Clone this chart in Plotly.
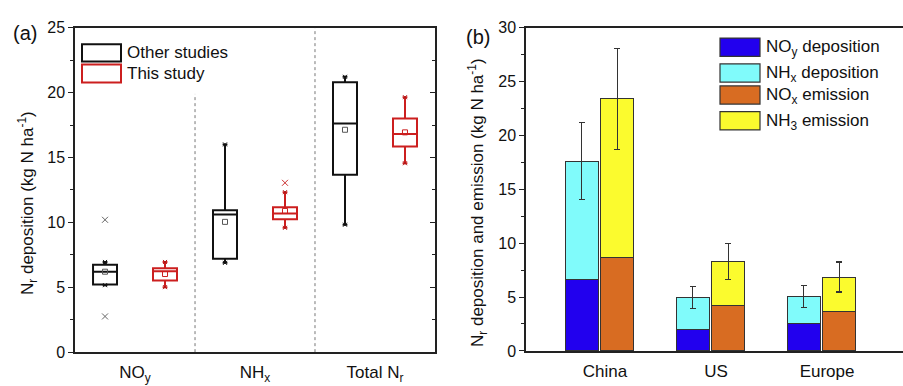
import plotly.graph_objects as go

# ---------------- Data: panel (a) box statistics ----------------
box_groups = ["NO<sub>y</sub>", "NH<sub>x</sub>", "Total N<sub>r</sub>"]
other_q1 = [5.21, 7.20, 13.68]
other_median = [6.19, 10.61, 17.63]
other_q3 = [6.73, 10.93, 20.80]
other_lower = [5.16, 6.88, 9.82]
other_upper = [6.95, 16.01, 21.22]
other_mean = [6.20, 10.04, 17.14]
other_outlier_group = [0, 0]
other_outlier_value = [10.20, 2.75]

this_q1 = [5.53, 10.24, 15.84]
this_median = [6.24, 10.68, 16.82]
this_q3 = [6.46, 11.17, 18.00]
this_lower = [5.01, 9.58, 14.56]
this_upper = [6.95, 12.33, 19.65]
this_mean = [6.02, 10.88, 16.94]
this_outlier_group = [1]
this_outlier_value = [13.05]

# ---------------- Data: panel (b) stacked bars ----------------
regions = ["China", "US", "Europe"]
noy_deposition = [6.63, 1.95, 2.54]
nhx_deposition = [11.00, 2.99, 2.52]
deposition_err = [3.55, 1.01, 1.03]
nox_emission = [8.70, 4.23, 3.67]
nh3_emission = [14.70, 4.08, 3.19]
emission_err = [4.67, 1.69, 1.40]

FONT = "Liberation Sans, Arial, sans-serif"
AX = "#222222"

other_x = [2 * i + 0.5 for i in range(len(box_groups))]
this_x = [2 * i + 1.5 for i in range(len(box_groups))]

fig = go.Figure()

# ---- panel (a) ----
fig.add_trace(go.Box(
    x=other_x, q1=other_q1, median=other_median, q3=other_q3,
    lowerfence=other_lower, upperfence=other_upper,
    width=0.4, whiskerwidth=0.2, fillcolor="rgba(0,0,0,0)",
    line=dict(color="#111111", width=2), boxpoints=False,
    xaxis="x", yaxis="y", showlegend=False, hoverinfo="skip"))
fig.add_trace(go.Box(
    x=this_x, q1=this_q1, median=this_median, q3=this_q3,
    lowerfence=this_lower, upperfence=this_upper,
    width=0.4, whiskerwidth=0.2, fillcolor="rgba(0,0,0,0)",
    line=dict(color="#cc1f1f", width=2), boxpoints=False,
    xaxis="x", yaxis="y", showlegend=False, hoverinfo="skip"))
# means
fig.add_trace(go.Scatter(
    x=other_x, y=other_mean, mode="markers",
    marker=dict(symbol="square-open", size=5, color="#555555", line=dict(width=1)),
    xaxis="x", yaxis="y", showlegend=False, hoverinfo="skip"))
fig.add_trace(go.Scatter(
    x=this_x, y=this_mean, mode="markers",
    marker=dict(symbol="square-open", size=5, color="#cc1f1f", line=dict(width=1)),
    xaxis="x", yaxis="y", showlegend=False, hoverinfo="skip"))
# min/max marks at whisker ends
fig.add_trace(go.Scatter(
    x=other_x + other_x, y=other_lower + other_upper, mode="markers",
    marker=dict(symbol="x-thin-open", size=4, color="#111111", line=dict(width=1)),
    xaxis="x", yaxis="y", showlegend=False, hoverinfo="skip"))
fig.add_trace(go.Scatter(
    x=this_x + this_x, y=this_lower + this_upper, mode="markers",
    marker=dict(symbol="x-thin-open", size=4, color="#b01818", line=dict(width=1)),
    xaxis="x", yaxis="y", showlegend=False, hoverinfo="skip"))
# outliers
fig.add_trace(go.Scatter(
    x=[other_x[g] for g in other_outlier_group], y=other_outlier_value, mode="markers",
    marker=dict(symbol="x-thin-open", size=6, color="#666666", line=dict(width=1)),
    xaxis="x", yaxis="y", showlegend=False, hoverinfo="skip"))
fig.add_trace(go.Scatter(
    x=[this_x[g] for g in this_outlier_group], y=this_outlier_value, mode="markers",
    marker=dict(symbol="x-thin-open", size=6, color="#cc3333", line=dict(width=1)),
    xaxis="x", yaxis="y", showlegend=False, hoverinfo="skip"))
# invisible trace for the right-side tick axis
fig.add_trace(go.Scatter(x=[0], y=[0], mode="markers", marker=dict(opacity=0),
                         xaxis="x", yaxis="y3", showlegend=False, hoverinfo="skip"))

# ---- panel (b) ----
dep_x = [i + 1 - 0.16 for i in range(len(regions))]
emi_x = [i + 1 + 0.16 for i in range(len(regions))]
bar_line = dict(color="#333333", width=1)
err_style = dict(type="data", color="#333333", thickness=1.2, width=3)

fig.add_trace(go.Bar(x=dep_x, y=noy_deposition, width=0.3, marker=dict(color="#2200ee", line=bar_line),
                     xaxis="x2", yaxis="y2", showlegend=False, hoverinfo="skip"))
fig.add_trace(go.Bar(x=dep_x, y=nhx_deposition, width=0.3, marker=dict(color="#80fbfb", line=bar_line),
                     error_y=dict(array=deposition_err, **err_style),
                     xaxis="x2", yaxis="y2", showlegend=False, hoverinfo="skip"))
fig.add_trace(go.Bar(x=emi_x, y=nox_emission, width=0.3, marker=dict(color="#d86c22", line=bar_line),
                     xaxis="x2", yaxis="y2", showlegend=False, hoverinfo="skip"))
fig.add_trace(go.Bar(x=emi_x, y=nh3_emission, width=0.3, marker=dict(color="#fbfb2e", line=bar_line),
                     error_y=dict(array=emission_err, **err_style),
                     xaxis="x2", yaxis="y2", showlegend=False, hoverinfo="skip"))

tickfont = dict(family=FONT, size=16, color="#111111")

fig.update_layout(
    width=903, height=386,
    margin=dict(l=0, r=0, t=0, b=0),
    paper_bgcolor="white", plot_bgcolor="white",
    barmode="stack",
    font=dict(family=FONT, color="#111111"),
    xaxis=dict(domain=[0.0831, 0.4817], range=[0, 6], tickvals=[1, 3, 5], ticktext=box_groups,
               ticks="", showgrid=False, zeroline=False, showline=True, linecolor=AX,
               linewidth=1.5, mirror=True, tickfont=dict(family=FONT, size=17, color="#111111"),
               ticklabelstandoff=4, anchor="y"),
    yaxis=dict(domain=[0.0674, 0.9464], range=[0, 25], tickvals=[0, 5, 10, 15, 20, 25],
               ticks="outside", ticklen=5, tickcolor=AX, showgrid=False, zeroline=False,
               showline=True, linecolor=AX, linewidth=1.5, mirror=True, tickfont=tickfont,
               minor=dict(ticks="outside", dtick=2.5, ticklen=3, tickcolor=AX, showgrid=False),
               anchor="x"),
    yaxis3=dict(overlaying="y", side="right", anchor="x", range=[0, 25], tickvals=[0, 5, 10, 15, 20, 25],
                ticks="inside", ticklen=5, tickcolor=AX, showticklabels=False, showgrid=False,
                zeroline=False, showline=False,
                minor=dict(ticks="inside", dtick=2.5, ticklen=3, tickcolor=AX, showgrid=False)),
    xaxis2=dict(domain=[0.5825, 1.0], range=[0.338, 3.734], tickvals=[1.05, 2.05, 3.05],
                ticktext=regions, ticks="", showgrid=False, zeroline=False, showline=True,
                linecolor=AX, linewidth=1.5, mirror=True,
                tickfont=dict(family=FONT, size=17, color="#111111"),
                ticklabelstandoff=4, anchor="y2"),
    yaxis2=dict(domain=[0.0707, 0.9464], range=[0, 30], tickvals=[0, 5, 10, 15, 20, 25, 30],
                ticks="outside", ticklen=5, tickcolor=AX, showgrid=False, zeroline=False,
                showline=True, linecolor=AX, linewidth=1.5, mirror=False, tickfont=tickfont,
                minor=dict(ticks="outside", dtick=2.5, ticklen=3, tickcolor=AX, showgrid=False),
                anchor="x2"),
)

# separators in panel (a)
fig.add_shape(type="line", xref="x", yref="y", x0=2, x1=2, y0=0, y1=19.9,
              line=dict(color="#777777", width=1, dash="dot"))
fig.add_shape(type="line", xref="x", yref="y", x0=4, x1=4, y0=0, y1=25,
              line=dict(color="#777777", width=1, dash="dot"))

W, H = 903.0, 386.0


def px_rect(x0, y0, x1, y1, color, fill="white", lw=2):
    fig.add_shape(type="rect", xref="paper", yref="paper",
                  x0=x0 / W, x1=x1 / W, y0=1 - y1 / H, y1=1 - y0 / H,
                  line=dict(color=color, width=lw), fillcolor=fill)


def px_text(x, y, text, size=17, xanchor="left", angle=0):
    fig.add_annotation(xref="paper", yref="paper", x=x / W, y=1 - y / H, text=text,
                       showarrow=False, xanchor=xanchor, yanchor="middle", textangle=angle,
                       font=dict(family=FONT, size=size, color="#111111"))


# legend panel (a)
px_rect(82, 38, 121, 56, "#111111")
px_rect(82, 59, 121, 78, "#cc1f1f")
px_text(125, 47, "Other studies")
px_text(125, 68, "This study")

# legend panel (b)
leg_colors = ["#2200ee", "#80fbfb", "#d86c22", "#fbfb2e"]
leg_labels = ["NO<sub>y</sub> deposition", "NH<sub>x</sub> deposition",
              "NO<sub>x</sub> emission", "NH<sub>3</sub> emission"]
leg_y = [(31.5, 50.5), (58.5, 77.5), (81.5, 100.5), (108.5, 127.5)]
for c, lab, (a, b) in zip(leg_colors, leg_labels, leg_y):
    px_rect(720, a, 760, b, "#333333", fill=c, lw=1.2)
    px_text(764, (a + b) / 2 + 1, lab)

# axis titles
px_text(27, 204, "N<sub>r</sub> deposition (kg N ha<sup>-1</sup>)", size=17, xanchor="center", angle=-90)
px_text(477, 204, "N<sub>r</sub> deposition and emission (kg N ha<sup>-1</sup>)", size=17,
        xanchor="center", angle=-90)

# panel labels
px_text(24.5, 26, "(a)", size=20, xanchor="center")
px_text(478, 30, "(b)", size=20, xanchor="center")

fig.write_html("out.html", config={"displayModeBar": False},
               post_script="document.body.style.margin='0';document.body.style.overflow='hidden';")
